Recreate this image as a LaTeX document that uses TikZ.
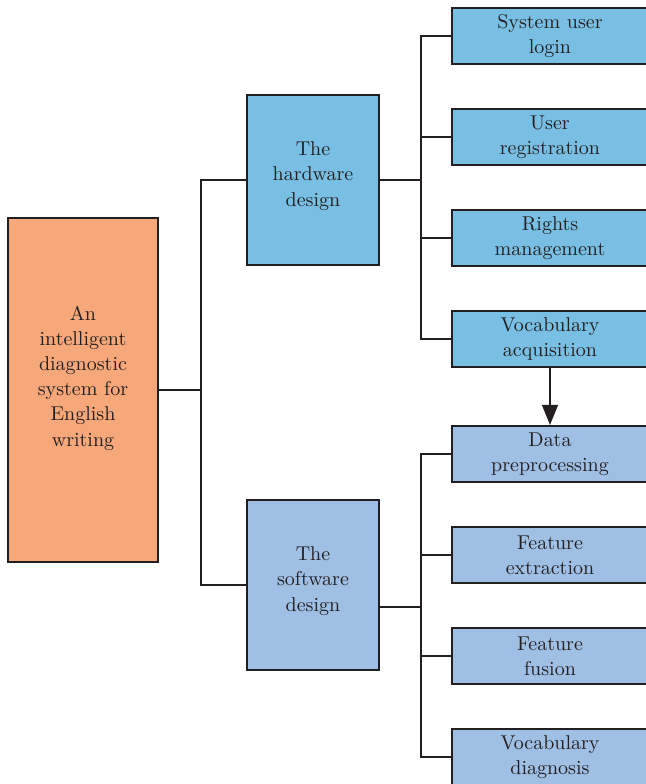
\documentclass[tikz,border=0pt]{standalone}
\usetikzlibrary{arrows.meta}
\definecolor{rootorange}{HTML}{F7A87A}
\definecolor{hwblue}{HTML}{78BFE3}
\definecolor{swblue}{HTML}{9FBFE5}
\definecolor{ink}{HTML}{231F20}
\tikzset{x=0.5pt,y=-0.5pt,
    every node/.style={
        font=\fontsize{10}{12.6}\selectfont,
        text=ink,
        align=center,
        inner sep=0pt},
    box/.style={
        draw=ink,
        line width=1.1pt,
        rectangle},
    rootbox/.style={box,fill=rootorange,minimum width=75pt,minimum height=172pt,text depth=14pt},
    midbox/.style={box,minimum width=66pt,minimum height=85pt,text depth=6pt},
    leafbox/.style={box,minimum width=98pt,minimum height=28pt},
    link/.style={draw=ink,line width=0.7pt},
    arr/.style={link,-{Triangle[width=8pt,length=10pt]}}}

\begin{document}
\begin{tikzpicture}
        \clip (0,0) rectangle (646,784);

        \node[rootbox] (root) at (83,390) {An\\intelligent\\diagnostic\\system for\\English\\writing};
        \node[midbox,fill=hwblue] (hw) at (313,180) {The\\hardware\\design};
        \node[midbox,fill=swblue] (sw) at (313,585) {The\\software\\design};

        \node[leafbox,fill=hwblue] (login) at (550,36) {System user\\login};
        \node[leafbox,fill=hwblue] (reg) at (550,137) {User\\registration};
        \node[leafbox,fill=hwblue] (rights) at (550,238) {Rights\\management};
        \node[leafbox,fill=hwblue] (vacq) at (550,339) {Vocabulary\\acquisition};

        \node[leafbox,fill=swblue] (prep) at (550,454) {Data\\preprocessing};
        \node[leafbox,fill=swblue] (fext) at (550,555) {Feature\\extraction};
        \node[leafbox,fill=swblue] (fus) at (550,656) {Feature\\fusion};
        \node[leafbox,fill=swblue] (vdiag) at (550,757) {Vocabulary\\diagnosis};

        \coordinate (lbus) at (201,390);
        \coordinate (hbus) at (421,180);
        \coordinate (sbus) at (421,607);

        % root to the two designs
        \draw[link] (root.east) -- (lbus);
        \draw[link] (hw.west) -| (lbus) |- (sw.west);

        % hardware branches
        \draw[link] (hw.east) -- (hbus);
        \draw[link] (login.west) -| (hbus) |- (vacq.west);
        \draw[link] (hbus |- reg) -- (reg.west);
        \draw[link] (hbus |- rights) -- (rights.west);

        % software branches
        \draw[link] (sw.east |- sbus) -- (sbus);
        \draw[link] (prep.west) -| (sbus) |- (vdiag.west);
        \draw[link] (sbus |- fext) -- (fext.west);
        \draw[link] (sbus |- fus) -- (fus.west);

        \draw[arr] (vacq) -- (prep);
    \end{tikzpicture}
\end{document}
